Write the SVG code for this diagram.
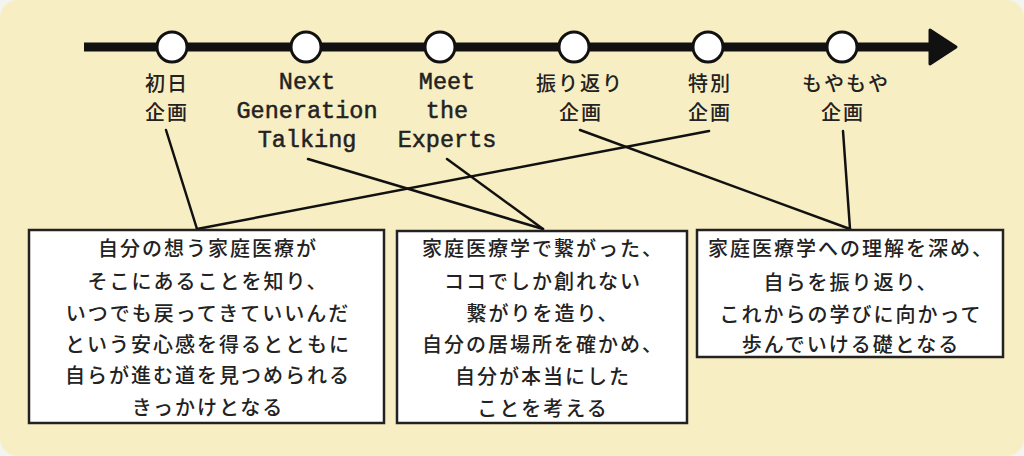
<svg xmlns="http://www.w3.org/2000/svg" width="1024" height="456" viewBox="0 0 1024 456">
<style>
.jp{font-family:"Noto Sans CJK JP","Noto Sans",sans-serif;font-size:20px;font-weight:500;letter-spacing:2px;fill:#222;text-anchor:middle;dominant-baseline:central}
.en{font-family:"Liberation Mono","DejaVu Sans Mono",monospace;font-size:23.5px;fill:#222;stroke:#222;stroke-width:0.5;text-anchor:middle;dominant-baseline:central}
.node{fill:#fff;stroke:#111;stroke-width:3}
.box{fill:#fff;stroke:#222;stroke-width:2.5}
.conn line{stroke:#111;stroke-width:2.5;stroke-linecap:round}
</style>
<rect width="1024" height="456" fill="#f3f3f0"/>
<rect x="0" y="0" width="1024" height="456" rx="18" fill="#f8eec3"/>
<g id="timeline">
<line x1="84" y1="47" x2="934" y2="47" stroke="#111" stroke-width="9"/>
<polygon points="930,30 956,47 930,64" fill="#111" stroke="#111" stroke-width="3" stroke-linejoin="round"/>
</g>
<g id="connectors" class="conn">
<line x1="166" y1="130" x2="197" y2="229"/>
<line x1="709" y1="131" x2="197" y2="229"/>
<line x1="308" y1="159" x2="543" y2="229"/>
<line x1="447" y1="159" x2="543" y2="229"/>
<line x1="580" y1="130" x2="850" y2="229"/>
<line x1="843" y1="131" x2="850" y2="229"/>
</g>
<g id="node-shonichi">
<circle class="node" cx="172" cy="47" r="15"/>
<text class="jp" x="167" y="82">初日</text>
<text class="jp" x="167" y="111">企画</text>
</g>
<g id="node-ngt">
<circle class="node" cx="306" cy="47" r="15"/>
<text class="en" x="307" y="82">Next</text>
<text class="en" x="307" y="111">Generation</text>
<text class="en" x="307" y="140">Talking</text>
</g>
<g id="node-mte">
<circle class="node" cx="440" cy="47" r="15"/>
<text class="en" x="447" y="82">Meet</text>
<text class="en" x="447" y="111">the</text>
<text class="en" x="447" y="140">Experts</text>
</g>
<g id="node-furikaeri">
<circle class="node" cx="574" cy="47" r="15"/>
<text class="jp" x="580" y="82">振り返り</text>
<text class="jp" x="581" y="111">企画</text>
</g>
<g id="node-tokubetsu">
<circle class="node" cx="708" cy="47" r="15"/>
<text class="jp" x="710" y="82">特別</text>
<text class="jp" x="710" y="111">企画</text>
</g>
<g id="node-moyamoya">
<circle class="node" cx="842" cy="47" r="15"/>
<text class="jp" x="846" y="82">もやもや</text>
<text class="jp" x="843" y="111">企画</text>
</g>
<g id="box1">
<rect class="box" x="29" y="230" width="355" height="193"/>
<text class="jp" x="208" y="247">自分の想う家庭医療が</text>
<text class="jp" x="208" y="280">そこにあることを知り、</text>
<text class="jp" x="208" y="312">いつでも戻ってきていいんだ</text>
<text class="jp" x="208" y="343">という安心感を得るとともに</text>
<text class="jp" x="208" y="374">自らが進む道を見つめられる</text>
<text class="jp" x="208" y="406">きっかけとなる</text>
</g>
<g id="box2">
<rect class="box" x="397" y="231" width="290" height="192"/>
<text class="jp" x="543" y="247">家庭医療学で繋がった、</text>
<text class="jp" x="543" y="280">ココでしか創れない</text>
<text class="jp" x="543" y="312">繋がりを造り、</text>
<text class="jp" x="543" y="343">自分の居場所を確かめ、</text>
<text class="jp" x="543" y="375">自分が本当にした</text>
<text class="jp" x="543" y="407">ことを考える</text>
</g>
<g id="box3">
<rect class="box" x="697" y="230" width="306" height="127"/>
<text class="jp" x="851" y="247">家庭医療学への理解を深め、</text>
<text class="jp" x="851" y="281">自らを振り返り、</text>
<text class="jp" x="851" y="313">これからの学びに向かって</text>
<text class="jp" x="851" y="343">歩んでいける礎となる</text>
</g>
</svg>
